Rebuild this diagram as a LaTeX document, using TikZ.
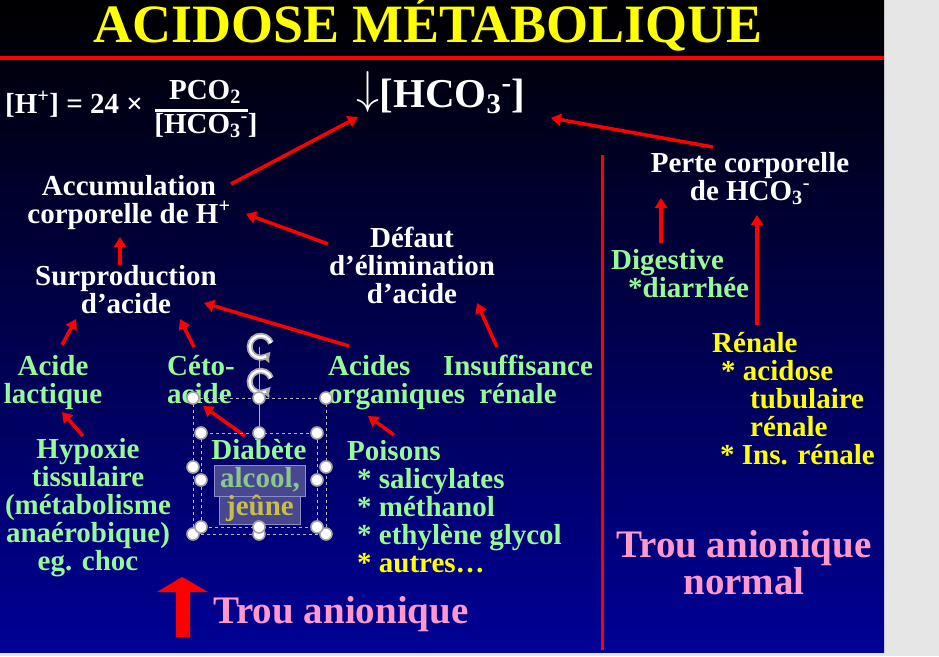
\documentclass[tikz,border=0pt]{standalone}
\usepackage{fix-cm}
\usepackage{fontspec}
\setmainfont{Liberation Serif}
\usetikzlibrary{arrows.meta}

\definecolor{vert}{RGB}{150,250,150}
\definecolor{jaune}{RGB}{255,255,0}
\definecolor{rose}{RGB}{255,153,204}
\definecolor{fondhaut}{RGB}{0,0,0}
\definecolor{fondmil}{RGB}{0,0,105}
\definecolor{fondbas}{RGB}{0,0,150}
\definecolor{gris}{RGB}{230,230,230}
\definecolor{selfond}{RGB}{72,72,145}
\definecolor{selbord}{RGB}{140,140,200}

\tikzset{
  txt/.style={font=\bfseries\fontsize{29}{28}\selectfont, inner sep=0pt},
  blanc/.style={txt, text=white, align=center},
  vrt/.style={txt, text=vert, align=center},
  jne/.style={txt, text=jaune, align=left},
  grand/.style={font=\bfseries\fontsize{39}{29}\selectfont, inner sep=0pt, text=rose, align=center},
  fleche/.style={draw=red, line width=3.5pt, -{Triangle[length=10pt,width=12pt]}},
  poignee/.style={fill=white, draw=gray!70, line width=1.6pt},
  cadre/.style={draw=gray!55, dashed, line width=0.6pt},
  surlign/.style={txt, fill=selfond, draw=selbord, line width=1pt, inner xsep=6pt, inner ysep=2pt, text depth=7pt}
}

\begin{document}
\begin{tikzpicture}[x=1pt,y=-1pt]
  \useasboundingbox (0,0) rectangle (939,656);
  \fill[gris] (0,0) rectangle (939,656);
  \shade[top color=fondhaut, middle color=fondmil, bottom color=fondbas] (0,0) rectangle (884,652);
  \draw[red, line width=4pt] (0,58) -- (884,58);
  \draw[red, line width=3pt] (602,155) -- (602,650);

  % titre et formule
  \node[font=\bfseries\fontsize{54}{60}\selectfont, text=jaune, inner sep=0pt, anchor=base] (titre) at (428,42) {ACIDOSE MÉTABOLIQUE};
  \node[txt, text=white, anchor=base west] (formule) at (5,113) {[H\textsuperscript{+}] = 24 ×};
  \node[txt, text=white, anchor=base] (num) at (205,99) {PCO\textsubscript{2}};
  \node[txt, text=white, anchor=base] (den) at (206,133) {[HCO\textsubscript{3}\textsuperscript{-}]};
  \draw[white, line width=3pt] (155,110) -- (248,110);
  \node[font=\bfseries\fontsize{41}{44}\selectfont, text=white, inner sep=0pt, anchor=base] (hco) at (441,107) {\raisebox{4pt}{\fontsize{46}{46}\selectfont$\downarrow$}[HCO\textsubscript{3}\textsuperscript{-}]};

  % partie gauche
  \node[blanc, anchor=base] (accum) at (129,223) {Accumulation\\corporelle de H\textsuperscript{+}};
  \node[blanc, anchor=base] (surprod) at (126,313) {Surproduction\\d’acide};
  \node[blanc, anchor=base] (defaut) at (412,303) {Défaut\\d’élimination\\d’acide};
  \node[vrt, anchor=base] (lact) at (53,403) {Acide\\lactique};
  \node[vrt, align=left, anchor=base west] (ceto) at (167,403) {Céto-\\acide};
  \node[vrt, align=left, anchor=base west] (orga) at (328,403) {Acides\\organiques};
  \node[vrt, anchor=base] (insuf) at (518,403) {Insuffisance\\rénale};
  \node[vrt, anchor=base] (hypox) at (88,570) {Hypoxie\\tissulaire\\(métabolisme\\anaérobique)\\eg. choc};
  \node[vrt, anchor=base] (diab) at (259,459) {Diabète};
  \node[surlign, text={rgb,255:red,140;green,200;blue,140}, text height=20pt, anchor=base] (alcool) at (260,487) {alcool,};
  \node[surlign, text={rgb,255:red,200;green,190;blue,70}, text height=17pt, inner xsep=7pt, anchor=base] (jeune) at (260,515) {jeûne};
  \node[vrt, align=left, anchor=base west] (poison) at (347,572) {Poisons\\\hspace*{10pt}* salicylates\\\hspace*{10pt}* méthanol\\\hspace*{10pt}* ethylène glycol\\\hspace*{10pt}{\color{jaune}* autres…}};
  \node[grand, align=left, anchor=base west] (trou) at (213,623) {Trou anionique};
  \fill[red] (182,577) -- (208,592) -- (190,592) -- (190,637) -- (176,637) -- (176,592) -- (157,592) -- cycle;

  % partie droite
  \node[blanc, anchor=base] (perte) at (750,200) {Perte corporelle\\de HCO\textsubscript{3}\textsuperscript{-}};
  \node[vrt, align=left, anchor=base west] (digest) at (611,297) {Digestive\\\hspace*{17pt}*diarrhée};
  \node[jne, anchor=base west] (renale) at (712,464) {Rénale\\\hspace*{9pt}* acidose\\\hspace*{38pt}tubulaire\\\hspace*{38pt}rénale\\\hspace*{8pt}* Ins. rénale};
  \node[grand, anchor=base] (normal) at (744,594) {Trou anionique\\normal};

  % fleches
  \draw[fleche] ([shift={(102,-39)}]accum.base) -- ([shift={(-83,10)}]hco.base);
  \draw[fleche] ([shift={(-84,-59)}]defaut.base) -- ([shift={(117,-9)}]accum.base);
  \draw[fleche] ([shift={(-37,-53)}]perte.base) -- ([shift={(110,11)}]hco.base);
  \draw[fleche] ([shift={(-6,-48)}]surprod.base) -- ([shift={(-9,14)}]accum.base);
  \draw[fleche] ([shift={(9,-58)}]lact.base) -- ([shift={(-50,6)}]surprod.base);
  \draw[fleche] ([shift={(27,-56)}]ceto.base west) -- ([shift={(54,6)}]surprod.base);
  \draw[fleche] ([shift={(21,-57)}]orga.base west) -- ([shift={(78,-10)}]surprod.base);
  \draw[fleche] ([shift={(-21,-56)}]insuf.base) -- ([shift={(65,0)}]defaut.base);
  \draw[fleche] ([shift={(-5,-134)}]hypox.base) -- ([shift={(9,9)}]lact.base);
  \draw[fleche] ([shift={(-14,-23)}]diab.base) -- ([shift={(36,3)}]ceto.base west);
  \draw[fleche] ([shift={(47,-137)}]poison.base west) -- ([shift={(40,13)}]orga.base west);
  \draw[fleche] ([shift={(50,-54)}]digest.base west) -- ([shift={(-89,-2)}]perte.base);
  \draw[fleche] ([shift={(45,-139)}]renale.base west) -- ([shift={(7,15)}]perte.base);

  % poignees de selection
  \draw[cadre] (193,398) rectangle (326,534);
  \draw[cadre] (201,433) rectangle (317,527);
  \draw[gray!60, line width=1pt] (259,347) -- (259,433);
  \foreach \y in {347,382}{
    \draw[gray!65, line width=6pt, -{Triangle[length=7pt,width=12pt]}] (271,\y-4) arc[start angle=-20, end angle=-320, radius=11];
    \draw[white, line width=2.5pt] (271,\y-4) arc[start angle=-20, end angle=-300, radius=11];
  }
  \foreach \x/\y in {193/398,259/398,326/398,193/467,326/467,193/534,259/534,326/534,201/433,259/433,317/433,201/480,317/480,201/527,259/527,317/527}
    \filldraw[poignee] (\x,\y) circle (6);
\end{tikzpicture}
\end{document}
